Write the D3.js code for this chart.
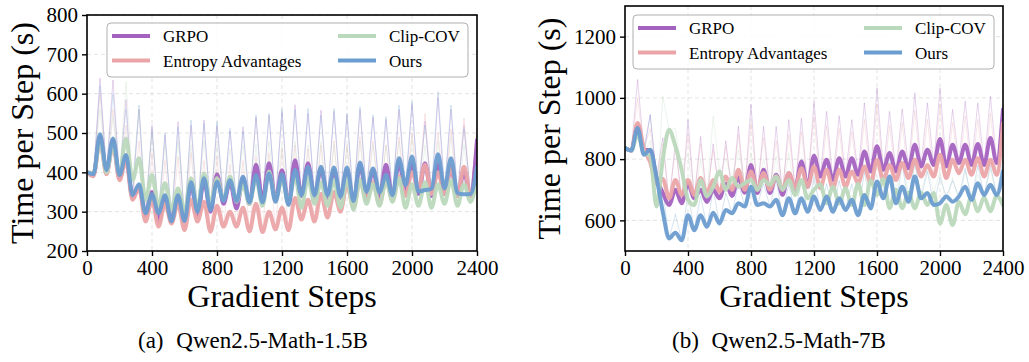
<!DOCTYPE html>
<html><head><meta charset="utf-8">
<script src="https://cdn.jsdelivr.net/npm/d3@7"></script>
<style>body{margin:0;background:#fff} svg{display:block} svg text{font-family:"Liberation Serif","Times New Roman",serif !important;fill:#000}</style>
</head><body><svg id="c" width="1029" height="362"></svg>
<script>
// ---------- DATA ----------
const steps = [0,40,80,120,160,200,240,280,320,360,400,440,480,520,560,600,640,680,720,760,800,840,880,920,960,1000,1040,1080,1120,1160,1200,1240,1280,1320,1360,1400,1440,1480,1520,1560,1600,1640,1680,1720,1760,1800,1840,1880,1920,1960,2000,2040,2080,2120,2160,2200,2240,2280,2320,2360,2400];
const peakSteps = [80,160,240,320,400,480,560,640,720,800,880,960,1040,1120,1200,1280,1360,1440,1520,1600,1680,1760,1840,1920,2000,2080,2160,2240,2320,2400];
const seriesNames = ["GRPO","Entropy Advantages","Clip-COV","Ours"];
const seriesColors = ["#a462c0","#eba5a8","#bad8bc","#6b9dd0"];
const xTicks = [0,400,800,1200,1600,2000,2400];
const leftYTicks = [200,300,400,500,600,700,800];
const rightYTicks = [600,800,1000,1200];
const captions = ["(a) Qwen2.5-Math-1.5B","(b) Qwen2.5-Math-7B"];

// Left panel (Qwen2.5-Math-1.5B), smoothed curves
const leftGRPO = [400,395,490,400,480,385,440,335,365,290, 350,275,340,278,340,280,370,287,380,300, 395,320,375,308,385,320,419,330,423,330, 405,320,431,340,423,335,410,335,405,335, 405,320,420,340,405,335,419,335,425,350, 420,345,423,340,420,345,410,340,400,340, 482];
const leftEntropy = [400,390,480,395,470,380,430,330,360,275, 330,262,320,270,320,253,330,275,325,249, 315,262,300,262,310,250,320,248,300,255, 310,253,335,280,330,275,345,285,350,300, 370,310,380,330,375,320,380,330,390,340, 400,360,419,345,400,345,414,340,414,340, 410];
const leftClip = [400,398,480,400,470,395,486,380,436,330, 393,315,372,305,359,300,385,310,397,320, 385,330,389,325,368,320,385,315,402,330, 380,325,390,310,385,320,375,315,380,310, 385,305,380,320,370,315,380,325,385,310, 370,315,375,310,370,320,380,315,370,325, 385];
const leftOurs = [400,395,497,406,486,393,444,342,370,296, 344,296,342,275,342,276,375,300,385,304, 376,327,380,327,389,324,393,324,397,325, 395,317,406,342,414,342,414,342,412,338, 412,327,425,351,410,349,393,342,436,368, 440,351,355,358,446,359,436,347,344,345, 414];
// Left panel raw spike heights at peakSteps
const leftSpikeGRPO = [639,635,585,560,520,495,529,520,533,520, 505,516,540,545,555,572,550,558,555,545, 560,540,535,560,575,530,590,560,520,500];
const leftSpikeEntropy = [600,560,520,480,450,430,440,450,430,440, 420,430,440,450,460,470,460,470,480,470, 490,480,470,490,500,550,500,510,538,520];
const leftSpikeClip = [560,540,630,560,500,470,480,470,480,470, 460,470,470,480,470,480,470,480,470,470, 480,470,470,480,490,470,480,490,470,480];
const leftSpikeOurs = [620,600,560,571,510,500,515,533,525,529, 512,505,546,550,562,560,562,545,562,550, 567,546,542,571,580,520,605,571,510,480];

// Right panel (Qwen2.5-Math-7B), smoothed curves
const rightGRPO = [836,828,910,830,830,740,690,650,700,656, 720,672,700,660,700,672,720,680,740,690, 781,689,765,689,749,683,754,700,792,710, 811,743,798,732,803,743,803,749,825,760, 842,765,820,760,825,770,847,776,831,781, 866,776,847,787,847,781,849,781,869,787, 962];
const rightEntropy = [836,828,918,835,790,720,735,672,732,683, 732,683,738,689,732,694,743,700,765,700, 760,700,755,700,745,700,755,705,770,710, 776,705,765,705,765,710,760,721,776,721, 798,732,781,732,787,738,798,743,781,743, 814,738,798,754,798,749,803,743,798,749, 918];
const rightClip = [836,828,880,820,809,645,800,896,842,765, 667,650,732,678,710,760,700,738,710,721, 732,700,732,716,743,700,732,683,732,672, 700,717,656,710,655,705,650,720,650,730, 683,735,640,700,640,690,640,690,650,689, 590,650,585,660,620,680,630,675,630,680, 650];
const rightOurs = [836,828,902,814,831,740,628,541,560,535, 617,568,617,579,625,590,634,623,656,645, 710,650,656,645,667,617,672,623,672,628, 678,634,678,628,672,634,667,617,683,639, 727,672,743,656,710,661,743,672,689,650, 656,678,661,678,710,667,721,683,716,683, 760];
// Right panel raw spike heights at peakSteps
const rightSpikeGRPO = [1060,945,870,860,929,874,850,860,907,978, 907,907,929,934,989,956,942,929,984,1033, 956,964,1016,984,1033,962,989,984,1005,980];
const rightSpikeEntropy = [1000,900,850,830,880,850,830,840,880,920, 870,860,880,890,940,910,900,890,930,980, 910,920,960,930,980,920,940,930,950,950];
const rightSpikeClip = [900,860,1005,900,820,800,940,800,830,820, 800,810,820,800,790,800,810,790,820,800, 780,790,780,770,760,740,760,750,770,720];
const rightSpikeOurs = [910,945,700,620,690,680,700,690,720,760, 720,730,720,730,740,720,730,720,760,800, 810,780,790,760,740,730,770,780,780,800];

// ---------- DRAW ----------
const svg = d3.select("#c");
const FONT = '"Liberation Serif","Times New Roman",serif';

const panels = [
  {x0:87, x1:477, y0:15, y1:251, yDomain:[200,800], yTicks:leftYTicks,
   smooth:[leftGRPO,leftEntropy,leftClip,leftOurs],
   spikes:[leftSpikeGRPO,leftSpikeEntropy,leftSpikeClip,leftSpikeOurs],
   ylabX:33, legend:{dx:20, dy:8}, capX:138},
  {x0:625, x1:1003, y0:6, y1:251, yDomain:[500,1300], yTicks:rightYTicks,
   smooth:[rightGRPO,rightEntropy,rightClip,rightOurs],
   spikes:[rightSpikeGRPO,rightSpikeEntropy,rightSpikeClip,rightSpikeOurs],
   ylabX:560, legend:{dx:8, dy:9}, capX:672}
];

panels.forEach((p, pi) => {
  const x = d3.scaleLinear().domain([0,2400]).range([p.x0,p.x1]);
  const y = d3.scaleLinear().domain(p.yDomain).range([p.y1,p.y0]);
  const g = svg.append("g");
  const clipId = "clip"+pi;
  svg.append("clipPath").attr("id",clipId).append("rect")
    .attr("x",p.x0).attr("y",p.y0).attr("width",p.x1-p.x0).attr("height",p.y1-p.y0);

  // grid
  g.selectAll(".gx").data(xTicks).enter().append("line")
    .attr("x1",d=>x(d)).attr("x2",d=>x(d)).attr("y1",p.y0).attr("y2",p.y1)
    .attr("stroke","#dcdcdc").attr("stroke-width",0.8).attr("stroke-dasharray","4,3");
  g.selectAll(".gy").data(p.yTicks).enter().append("line")
    .attr("x1",p.x0).attr("x2",p.x1).attr("y1",d=>y(d)).attr("y2",d=>y(d))
    .attr("stroke","#dcdcdc").attr("stroke-width",0.8).attr("stroke-dasharray","4,3");

  const rawLine = d3.line().x(d=>x(d[0])).y(d=>y(d[1])).curve(d3.curveLinear);
  const smoothLine = d3.line().x(d=>x(d[0])).y(d=>y(d[1])).curve(d3.curveMonotoneX);
  const plotG = g.append("g").attr("clip-path",`url(#${clipId})`);

  // raw (thin) lines
  p.smooth.forEach((s, si) => {
    const sp = p.spikes[si];
    const raw = steps.map((st,i) => {
      const k = peakSteps.indexOf(st);
      return [st, k >= 0 ? sp[k] : s[i]];
    });
    plotG.append("path").datum(raw).attr("d",rawLine)
      .attr("fill","none").attr("stroke",seriesColors[si])
      .attr("stroke-width",1).attr("stroke-opacity",0.28);
  });
  // smoothed (thick) lines
  p.smooth.forEach((s, si) => {
    plotG.append("path").datum(steps.map((st,i)=>[st,s[i]])).attr("d",smoothLine)
      .attr("fill","none").attr("stroke",seriesColors[si])
      .attr("stroke-width",4).attr("stroke-linejoin","round").attr("stroke-linecap","round")
      .attr("stroke-opacity",0.95);
  });

  // frame
  g.append("rect").attr("x",p.x0).attr("y",p.y0).attr("width",p.x1-p.x0).attr("height",p.y1-p.y0)
    .attr("fill","none").attr("stroke","#000").attr("stroke-width",1.6);

  // axes
  const xa = g.append("g").attr("transform",`translate(0,${p.y1})`)
    .call(d3.axisBottom(x).tickValues(xTicks).tickSize(5).tickPadding(4).tickFormat(d3.format("d")));
  const ya = g.append("g").attr("transform",`translate(${p.x0},0)`)
    .call(d3.axisLeft(y).tickValues(p.yTicks).tickSize(5).tickPadding(4).tickFormat(d3.format("d")));
  [xa,ya].forEach(a=>{
    a.attr("font-family",null).attr("font-size",null);
    a.select(".domain").remove();
    a.selectAll(".tick line").attr("stroke","#000").attr("stroke-width",1.4);
    a.selectAll(".tick text").style("font-family",FONT).style("font-size","21px").attr("fill","#000");
  });

  // axis labels
  g.append("text").attr("x",(p.x0+p.x1)/2).attr("y",307).attr("text-anchor","middle")
    .style("font-size","32px").text("Gradient Steps");
  g.append("text").attr("transform",`translate(${p.ylabX},${(p.y0+p.y1)/2}) rotate(-90)`)
    .attr("text-anchor","middle").style("font-size","32px").text("Time per Step (s)");

  // caption
  g.append("text").attr("x",p.capX).attr("y",348).style("font-size","23px")
    .style("word-spacing","7px").text(captions[pi]);

  // legend
  const lx = p.x0 + p.legend.dx, ly = p.y0 + p.legend.dy;
  const lg = g.append("g").attr("transform",`translate(${lx},${ly})`);
  lg.append("rect").attr("width",361).attr("height",54).attr("rx",4)
    .attr("fill","#fff").attr("fill-opacity",0.85).attr("stroke","#b0b0b0").attr("stroke-width",1);
  seriesNames.forEach((n, si) => {
    const col = si < 2 ? 0 : 1, row = si % 2;
    const hx = col === 0 ? 5 : 231, ry = 13 + row*24.5;
    lg.append("line").attr("x1",hx).attr("x2",hx+38).attr("y1",ry).attr("y2",ry)
      .attr("stroke",seriesColors[si]).attr("stroke-width",4);
    lg.append("text").attr("x",hx+51).attr("y",ry+6).style("font-size","17px").text(n);
  });
});
</script>
</body></html>
